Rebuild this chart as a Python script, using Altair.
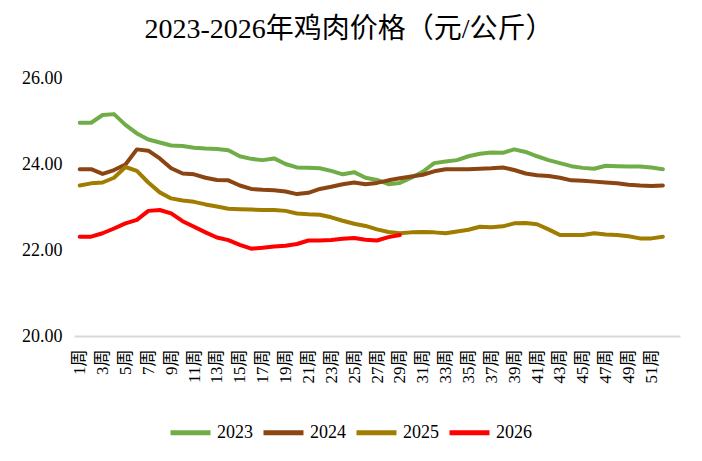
import altair as alt
import pandas as pd

weeks = list(range(1, 53))

y2023 = [24.96, 24.96, 25.14, 25.16, 24.91, 24.71, 24.57, 24.50, 24.43, 24.42,
         24.38, 24.36, 24.35, 24.32, 24.18, 24.12, 24.09, 24.13, 24.00, 23.92,
         23.91, 23.90, 23.84, 23.76, 23.81, 23.68, 23.63, 23.53, 23.56, 23.68,
         23.82, 24.02, 24.06, 24.09, 24.18, 24.24, 24.27, 24.26, 24.34, 24.28,
         24.18, 24.09, 24.02, 23.95, 23.91, 23.89, 23.96, 23.95, 23.94, 23.94,
         23.92, 23.88]
y2024 = [23.88, 23.88, 23.77, 23.86, 23.99, 24.34, 24.31, 24.13, 23.90, 23.78,
         23.76, 23.68, 23.63, 23.62, 23.50, 23.42, 23.40, 23.39, 23.36, 23.30,
         23.33, 23.42, 23.47, 23.53, 23.57, 23.53, 23.56, 23.62, 23.67, 23.71,
         23.75, 23.83, 23.88, 23.88, 23.88, 23.89, 23.90, 23.92, 23.86, 23.78,
         23.74, 23.72, 23.68, 23.62, 23.61, 23.59, 23.57, 23.55, 23.52, 23.50,
         23.49, 23.50]
y2025 = [23.50, 23.55, 23.57, 23.68, 23.93, 23.84, 23.57, 23.34, 23.20, 23.15,
         23.12, 23.06, 23.01, 22.96, 22.95, 22.94, 22.93, 22.93, 22.91, 22.85,
         22.83, 22.82, 22.76, 22.68, 22.61, 22.56, 22.48, 22.42, 22.39, 22.41,
         22.42, 22.41, 22.39, 22.43, 22.47, 22.54, 22.53, 22.55, 22.62, 22.63,
         22.60, 22.48, 22.35, 22.35, 22.35, 22.39, 22.36, 22.35, 22.32, 22.27,
         22.27, 22.31]
y2026 = [22.31, 22.31, 22.39, 22.50, 22.62, 22.70, 22.91, 22.93, 22.85, 22.67,
         22.54, 22.41, 22.29, 22.23, 22.12, 22.03, 22.05, 22.08, 22.10, 22.14,
         22.22, 22.22, 22.23, 22.26, 22.28, 22.24, 22.22, 22.30, 22.35]

series_names = ["2023", "2024", "2025", "2026"]
series_colors = ["#70AD47", "#8B4513", "#A07C00", "#FF0000"]
y_ticks = [20, 22, 24, 26]
x_ticks = list(range(1, 52, 2))

rows = []
for name, vals in zip(series_names, [y2023, y2024, y2025, y2026]):
    for w, v in zip(weeks, vals):
        rows.append({"week": w, "price": v, "year": name})
df = pd.DataFrame(rows)

serif = "Liberation Serif, Noto Sans CJK SC"

chart = alt.Chart(df).mark_line(strokeWidth=4, strokeJoin="round", strokeCap="round").encode(
    x=alt.X("week:Q",
            scale=alt.Scale(domain=[0.5, 53.5], nice=False, zero=False),
            axis=alt.Axis(values=x_ticks, labelExpr="datum.value + '周'", title=None,
                          grid=False, ticks=False, domain=True, domainColor="#d9d9d9",
                          domainWidth=2, labelAngle=270, labelAlign="right",
                          labelBaseline="middle", labelPadding=13, labelFontSize=17,
                          labelFont=serif, labelColor="#000000", labelOverlap=False,
                          labelBound=False, labelFlush=False)),
    y=alt.Y("price:Q",
            scale=alt.Scale(domain=[20, 26], nice=False, zero=False),
            axis=alt.Axis(values=y_ticks, format=".2f", title=None, grid=False,
                          ticks=False, domain=False, labelPadding=12, labelFontSize=18,
                          labelFont=serif, labelColor="#000000")),
    color=alt.Color("year:N",
                    scale=alt.Scale(domain=series_names, range=series_colors),
                    legend=alt.Legend(title=None, orient="none", direction="horizontal",
                                      legendX=94, legendY=332,
                                      symbolType="stroke", symbolSize=1600,
                                      symbolStrokeWidth=5, labelFontSize=18,
                                      labelFont=serif, labelColor="#000000",
                                      labelOffset=4, columnPadding=0)),
    order=alt.Order("year:N"),
).properties(
    width=606,
    height=258,
    background="#ffffff",
    title=alt.TitleParams("2023-2026年鸡肉价格（元/公斤）", fontSize=28, font=serif,
                          fontWeight="normal", color="#000000", anchor="middle",
                          offset=25, dx=-28),
    autosize=alt.AutoSizeParams(type="none"),
    padding={"left": 66, "top": 70, "right": 14, "bottom": 117},
).configure_view(stroke=None)

chart.save("out.html", embed_options={"renderer": "svg", "actions": False})
